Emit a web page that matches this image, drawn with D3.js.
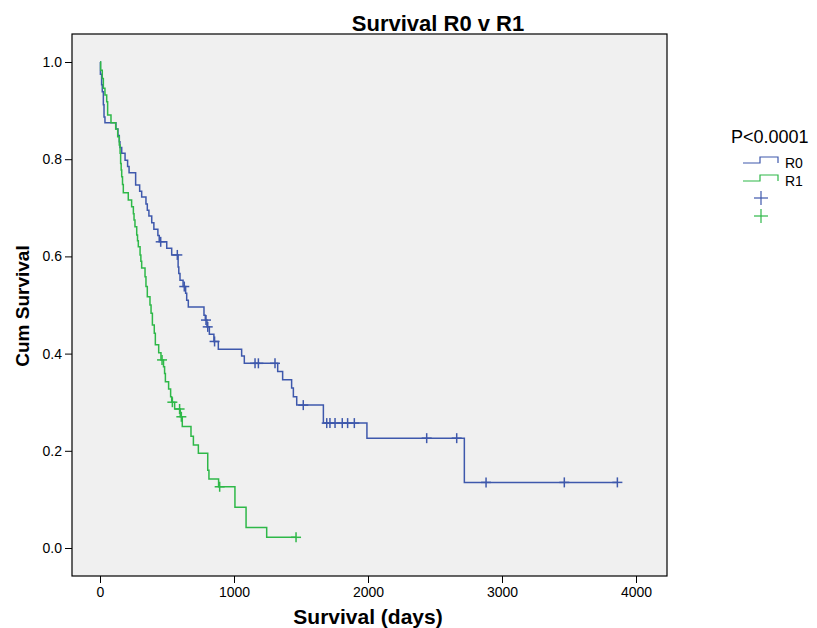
<!DOCTYPE html>
<html lang="en">
<head>
    <meta charset="UTF-8">
    <title>Survival R0 v R1</title>
    <script src="https://d3js.org/d3.v7.min.js"></script>
    <style>
        body {
            margin: 0;
            background: #fff;
            font-family: "Liberation Sans", Arial, sans-serif;
        }
        .tick text {
            font-size: 14px;
            fill: #000;
        }
        .tick line, .domain {
            stroke: #000;
        }
    </style>
</head>
<body>
<svg width="817" height="628"></svg>
<script>
    // R0 group: event times (days) and survival after each step
    const r0Times = [0, 3, 12, 17, 25, 30, 37, 119, 134, 144, 149, 162, 187, 206, 217, 266, 296, 311,
        343, 353, 365, 386, 402, 432, 442, 498, 535, 583, 588, 597, 620, 639, 647, 659, 776, 786,
        798, 816, 850, 883, 1057, 1077, 1326, 1363, 1430, 1443, 1468, 1667, 1992, 2719];
    const r0Surv = [1.0, 0.975, 0.953, 0.939, 0.912, 0.887, 0.875, 0.862, 0.849, 0.836, 0.824, 0.812,
        0.798, 0.785, 0.772, 0.747, 0.734, 0.722, 0.708, 0.695, 0.683, 0.669, 0.656, 0.643, 0.630,
        0.617, 0.603, 0.578, 0.565, 0.551, 0.538, 0.524, 0.510, 0.496, 0.479, 0.469, 0.455, 0.440,
        0.425, 0.409, 0.395, 0.380, 0.363, 0.346, 0.329, 0.311, 0.294, 0.257, 0.226, 0.135];
    const r0Censored = [453, 577, 629, 791, 804, 855, 1157, 1182, 1306, 1517, 1692, 1716, 1754,
        1808, 1848, 1898, 2438, 2662, 2881, 3465, 3861];

    // R1 group
    const r1Times = [0, 5, 17, 25, 37, 50, 57, 82, 117, 132, 144, 150, 154, 158, 162, 168, 174, 211,
        236, 249, 254, 261, 274, 280, 286, 299, 305, 311, 336, 343, 353, 373, 381, 391, 405, 413,
        438, 455, 474, 482, 488, 512, 527, 535, 557, 599, 614, 679, 697, 734, 804, 813, 885, 1007,
        1090, 1244];
    const r1Surv = [1.0, 0.983, 0.966, 0.946, 0.932, 0.918, 0.891, 0.875, 0.862, 0.846, 0.829, 0.812,
        0.791, 0.778, 0.764, 0.748, 0.731, 0.716, 0.702, 0.688, 0.675, 0.661, 0.644, 0.632, 0.620,
        0.603, 0.590, 0.576, 0.558, 0.538, 0.517, 0.500, 0.483, 0.459, 0.442, 0.418, 0.402, 0.387,
        0.373, 0.359, 0.342, 0.327, 0.311, 0.300, 0.286, 0.270, 0.250, 0.230, 0.212, 0.195, 0.160,
        0.142, 0.126, 0.084, 0.042, 0.022];
    const r1Censored = [463, 540, 594, 607, 893, 1463];

    const xTicks = [0, 1000, 2000, 3000, 4000];
    const yTicks = [0.0, 0.2, 0.4, 0.6, 0.8, 1.0];

    const groups = [
        {name: "R0", times: r0Times, surv: r0Surv, censored: r0Censored, color: "#3e58ac"},
        {name: "R1", times: r1Times, surv: r1Surv, censored: r1Censored, color: "#2eb848"}
    ];

    const frame = {left: 72, top: 34, right: 667, bottom: 576};

    const svg = d3.select("svg");

    const x = d3.scaleLinear().domain([0, 4000]).range([100, 636]);
    const y = d3.scaleLinear().domain([0, 1]).range([548, 62]);

    // plot background
    svg.append("rect")
        .attr("x", frame.left)
        .attr("y", frame.top)
        .attr("width", frame.right - frame.left)
        .attr("height", frame.bottom - frame.top)
        .attr("fill", "#f0f0f0")
        .attr("stroke", "#000")
        .attr("stroke-width", 1.2);

    // axes
    svg.append("g")
        .attr("transform", `translate(0,${frame.bottom})`)
        .call(d3.axisBottom(x).tickValues(xTicks).tickFormat(d3.format("d")).tickSize(7).tickPadding(4))
        .call(g => g.select(".domain").remove());

    svg.append("g")
        .attr("transform", `translate(${frame.left},0)`)
        .call(d3.axisLeft(y).tickValues(yTicks).tickFormat(d3.format(".1f")).tickSize(7).tickPadding(3))
        .call(g => g.select(".domain").remove());

    function survAt(g, t) {
        let s = 1;
        for (let i = 0; i < g.times.length; i++) {
            if (g.times[i] <= t) s = g.surv[i];
        }
        return s;
    }

    const line = d3.line()
        .x(d => x(d[0]))
        .y(d => y(d[1]))
        .curve(d3.curveStepAfter);

    const plot = svg.append("g");

    groups.forEach(g => {
        const pts = g.times.map((t, i) => [t, g.surv[i]]);
        const lastT = d3.max([d3.max(g.times), d3.max(g.censored)]);
        pts.push([lastT, survAt(g, lastT)]);

        plot.append("path")
            .datum(pts)
            .attr("d", line)
            .attr("fill", "none")
            .attr("stroke", g.color)
            .attr("stroke-width", 1.5);

        const cens = plot.append("g")
            .selectAll("g")
            .data(g.censored)
            .enter().append("g")
            .attr("transform", t => `translate(${x(t)},${y(survAt(g, t))})`);

        cens.append("line")
            .attr("x1", -5).attr("x2", 5)
            .attr("stroke", g.color).attr("stroke-width", 1.5);
        cens.append("line")
            .attr("y1", -5).attr("y2", 5)
            .attr("stroke", g.color).attr("stroke-width", 1.5);
    });

    // titles
    svg.append("text")
        .attr("x", 438)
        .attr("y", 31)
        .attr("text-anchor", "middle")
        .attr("font-size", "22px")
        .attr("font-weight", "bold")
        .text("Survival R0 v R1");

    svg.append("text")
        .attr("x", 368)
        .attr("y", 624)
        .attr("text-anchor", "middle")
        .attr("font-size", "21px")
        .attr("font-weight", "bold")
        .text("Survival (days)");

    svg.append("text")
        .attr("transform", "translate(29,306) rotate(-90)")
        .attr("text-anchor", "middle")
        .attr("font-size", "19px")
        .attr("font-weight", "bold")
        .text("Cum Survival");

    // legend
    const legend = svg.append("g");
    legend.append("text")
        .attr("x", 731)
        .attr("y", 143)
        .attr("font-size", "18px")
        .text("P<0.0001");

    groups.forEach((g, i) => {
        const ly = 163 + i * 18;
        legend.append("path")
            .attr("d", `M743,${ly}H760V${ly - 6}H778V${ly}`)
            .attr("fill", "none")
            .attr("stroke", g.color)
            .attr("stroke-width", 1.2);
        legend.append("text")
            .attr("x", 785)
            .attr("y", ly + 5)
            .attr("font-size", "14px")
            .text(g.name);
    });

    groups.forEach((g, i) => {
        const cy = 198 + i * 18;
        legend.append("line")
            .attr("x1", 754).attr("x2", 768).attr("y1", cy).attr("y2", cy)
            .attr("stroke", g.color).attr("stroke-width", 1.2);
        legend.append("line")
            .attr("x1", 761).attr("x2", 761).attr("y1", cy - 7).attr("y2", cy + 7)
            .attr("stroke", g.color).attr("stroke-width", 1.2);
    });
</script>
</body>
</html>
